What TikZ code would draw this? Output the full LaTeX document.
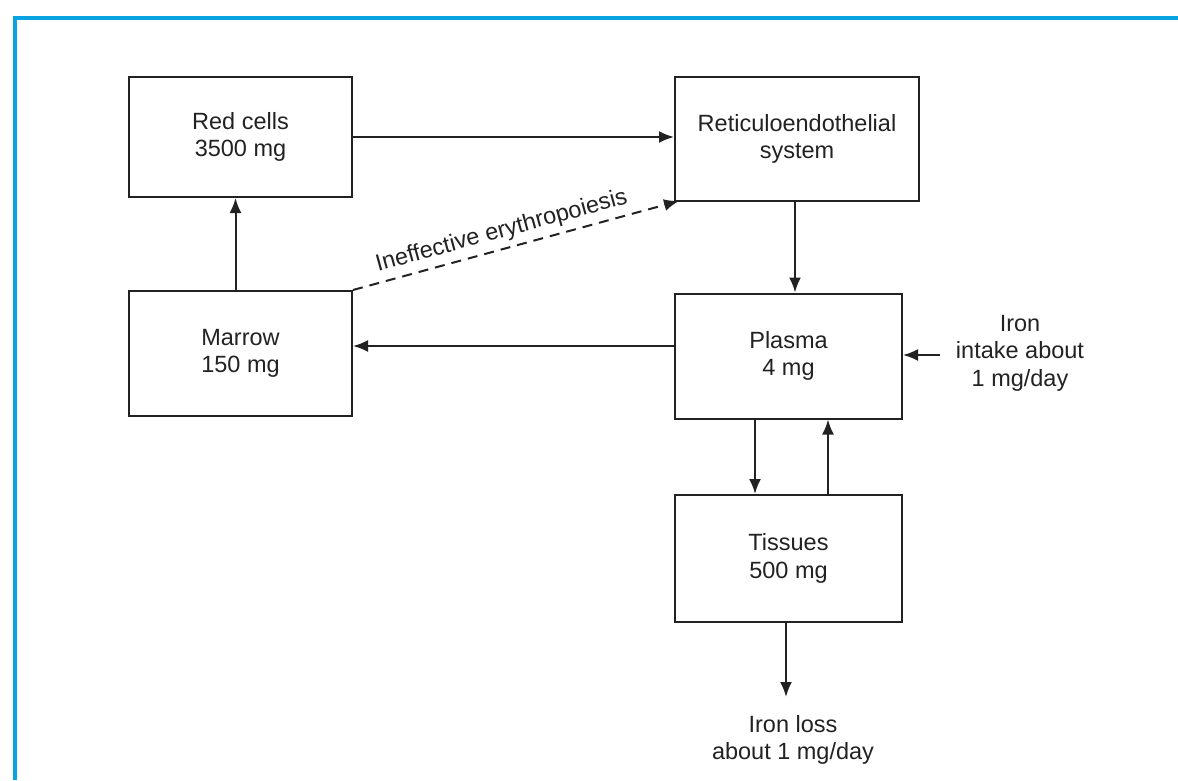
\documentclass[tikz,border=0pt]{standalone}
\usepackage{fontspec}
\setmainfont{Liberation Sans}
\usetikzlibrary{arrows.meta}
\definecolor{frameblue}{HTML}{0AA3E2}
\definecolor{ink}{HTML}{222222}
\begin{document}
\begin{tikzpicture}[x=1pt,y=-1pt,
  every node/.style={font=\fontsize{23.5}{27.5}\selectfont, text=ink, align=center},
  box/.style={draw=ink, line width=2pt, inner sep=0pt},
  arr/.style={draw=ink, line width=2pt, -{Latex[length=15pt,width=12pt]}},
  dasharr/.style={arr, dash pattern=on 10pt off 7pt}]
\useasboundingbox (0,0) rectangle (1178,780);
\fill[white] (0,0) rectangle (1178,780);
% frame
\draw[frameblue, line width=4pt] (15,780) -- (15,18) -- (1178,18);
% compartments
\node[box, minimum width=223, minimum height=120] (red) at (240.5,137) {Red cells\\3500 mg};
\node[box, minimum width=244, minimum height=124] (ret) at (797,139) {Reticuloendothelial\\system};
\node[box, minimum width=223, minimum height=125] (marrow) at (240.5,353.5) {Marrow\\150 mg};
\node[box, minimum width=227, minimum height=125] (plasma) at (788.5,356) {Plasma\\4 mg};
\node[box, minimum width=227, minimum height=127] (tissues) at (788.5,558.5) {Tissues\\500 mg};
\node (intake) at (1020,353) {Iron\\intake about\\1 mg/day};
\node (loss) at (793,740) {Iron loss\\about 1 mg/day};
\coordinate (intakeend) at (940,355);
\coordinate (lossend) at (786,697);
% flows
\draw[arr] (red.east) -- (red.east -| ret.west);
\draw[arr] ([xshift=-2]ret.south) -- ([xshift=-2]ret.south |- plasma.north);
\draw[arr] ([yshift=10]plasma.west) -- ([yshift=10]plasma.west -| marrow.east);
\draw[arr] ([xshift=-5]marrow.north) -- ([xshift=-5]red.south);
\draw[dasharr] (marrow.north east) -- node[sloped, above, pos=0.47, yshift=2pt] {Ineffective erythropoiesis} ([xshift=5,yshift=1]ret.south west);
\draw[arr] ([xshift=-33.5]plasma.south) -- ([xshift=-33.5]tissues.north);
\draw[arr] ([xshift=39.5]tissues.north) -- ([xshift=39.5]plasma.south);
\draw[arr] (intakeend) -- (intakeend -| plasma.east);
\draw[arr] ([xshift=-2.5]tissues.south) -- (lossend);
\end{tikzpicture}
\end{document}
